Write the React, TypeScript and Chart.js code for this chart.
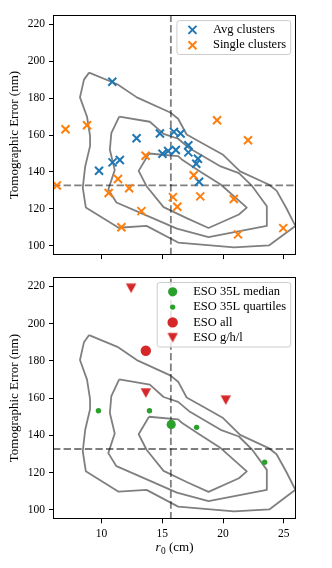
import React, { useEffect, useRef } from 'react';
import { Chart, registerables } from 'chart.js';

Chart.register(...registerables);

// ---------- axis ranges & ticks ----------
const X_MIN = 6;
const X_MAX = 26;
const Y_MIN = 95;
const Y_MAX = 225;
const X_TICKS = [10, 15, 20, 25];
const Y_TICKS = [100, 120, 140, 160, 180, 200, 220];
const Y_LABEL = 'Tomographic Error (nm)';

// ---------- reference lines ----------
const R0_MEDIAN = 15.7;
const ERR_MEDIAN = 132.7;

// ---------- top panel ----------
const AVG_R0 = [10.88, 12.88, 14.8, 15.95, 16.5, 17.14, 15.01, 15.48, 16.11, 17.14, 17.93, 17.79, 11.5, 10.9, 9.79, 18.02];
const AVG_ERR = [188.9, 158.3, 160.8, 161.7, 160.8, 154.5, 149.9, 151.4, 151.9, 150.6, 147.2, 144.5, 146.5, 145.2, 140.7, 134.7];
const SINGLE_R0 = [7.03, 8.8, 19.5, 22.05, 13.62, 17.58, 11.35, 12.27, 6.32, 10.58, 15.87, 18.12, 20.88, 16.23, 13.28, 11.63, 24.95, 21.23];
const SINGLE_ERR = [163.1, 165.3, 168.0, 157.2, 148.8, 138.2, 136.2, 131.2, 132.7, 128.6, 126.4, 126.8, 125.4, 121.2, 118.8, 110.1, 109.6, 106.2];

// ---------- bottom panel ----------
const ESO35_MEDIAN_R0 = [15.73];
const ESO35_MEDIAN_ERR = [145.9];
const ESO35_QUART_R0 = [9.74, 13.94, 17.82, 23.42];
const ESO35_QUART_ERR = [153.2, 153.2, 144.3, 125.6];
const ESO_ALL_R0 = [13.64];
const ESO_ALL_ERR = [185.4];
const ESO_GHL_R0 = [12.43, 13.64, 20.22];
const ESO_GHL_ERR = [218.9, 162.7, 158.9];

// ---------- density contours (r0, error) ----------
const CONTOUR_OUTER: number[][] = [
  [8.97, 193.8], [11.3, 187.5], [12.9, 180.4], [15.65, 172.2], [16.3, 168.8], [17.0, 160.3],
  [18.4, 155.2], [20.0, 149.3], [21.4, 140.3], [23.75, 133.2], [24.4, 129.9], [25.2, 120.5],
  [25.95, 110.8], [23.8, 100.3], [20.9, 99.2], [16.3, 101.8], [13.7, 110.8], [11.4, 109.8],
  [8.7, 120.8], [8.45, 131.5], [8.65, 143.0], [9.05, 154.0], [9.05, 159.5], [8.8, 169.9],
  [8.22, 180.4], [8.55, 190.0],
];
const CONTOUR_MIDDLE: number[][] = [
  [11.45, 170.0], [13.97, 167.2], [15.1, 160.6], [16.3, 158.0], [17.2, 153.0], [19.8, 143.0],
  [21.3, 139.4], [22.4, 132.3], [23.6, 121.5], [23.6, 110.8], [18.8, 104.7], [16.2, 109.3],
  [13.2, 117.9], [11.22, 123.5], [10.55, 130.5], [11.08, 141.0], [10.68, 152.0], [10.8, 161.0],
];
const CONTOUR_INNER: number[][] = [
  [13.9, 150.0], [16.3, 148.6], [16.6, 146.8], [18.1, 140.3], [19.8, 133.2], [21.95, 120.7],
  [21.3, 117.0], [18.8, 109.7], [17.0, 115.0], [15.1, 121.0], [13.7, 132.3], [13.05, 140.6],
];

// ---------- styles ----------
const BLUE = '#1f77b4';
const ORANGE = '#ff7f0e';
const GREEN = '#2ca02c';
const RED = '#d62728';
const GREY = 'rgba(0,0,0,0.5)';
const FONT = "'Liberation Serif', 'Times New Roman', serif";

const pts = (xs: number[], ys: number[]) => xs.map((x, i) => ({ x, y: ys[i] }));
const loop = (c: number[][]) => [...c, c[0]].map(([x, y]) => ({ x, y }));

function makeTriangle(color: string, w: number, h: number) {
  const c = document.createElement('canvas');
  const size = 14;
  c.width = size;
  c.height = size;
  const g = c.getContext('2d')!;
  const cx = size / 2;
  const cy = size / 2;
  g.fillStyle = color;
  g.beginPath();
  g.moveTo(cx - w / 2, cy - h / 2);
  g.lineTo(cx + w / 2, cy - h / 2);
  g.lineTo(cx, cy + h / 2);
  g.closePath();
  g.fill();
  return c;
}

function contourSets() {
  return [CONTOUR_OUTER, CONTOUR_MIDDLE, CONTOUR_INNER].map((c) => ({
    data: loop(c),
    showLine: true,
    pointRadius: 0,
    borderColor: GREY,
    borderWidth: 1.8,
    borderJoinStyle: 'round',
    tension: 0,
    order: 5,
  }));
}

function refLineSets() {
  return [
    {
      data: [{ x: R0_MEDIAN, y: Y_MIN }, { x: R0_MEDIAN, y: Y_MAX }],
      showLine: true, pointRadius: 0, borderColor: GREY, borderWidth: 1.8, borderDash: [7.4, 3.2], order: 6,
    },
    {
      data: [{ x: X_MIN, y: ERR_MEDIAN }, { x: X_MAX, y: ERR_MEDIAN }],
      showLine: true, pointRadius: 0, borderColor: GREY, borderWidth: 1.8, borderDash: [7.4, 3.2], order: 6,
    },
  ];
}

type LegendItem = { label: string; draw: (ctx: CanvasRenderingContext2D, x: number, y: number) => void };

function drawCross(color: string) {
  return (ctx: CanvasRenderingContext2D, x: number, y: number) => {
    const h = 4;
    ctx.save();
    ctx.strokeStyle = color;
    ctx.lineWidth = 2;
    ctx.beginPath();
    ctx.moveTo(x - h, y - h);
    ctx.lineTo(x + h, y + h);
    ctx.moveTo(x + h, y - h);
    ctx.lineTo(x - h, y + h);
    ctx.stroke();
    ctx.restore();
  };
}
function drawCircle(color: string, r: number) {
  return (ctx: CanvasRenderingContext2D, x: number, y: number) => {
    ctx.save();
    ctx.fillStyle = color;
    ctx.beginPath();
    ctx.arc(x, y, r, 0, Math.PI * 2);
    ctx.fill();
    ctx.restore();
  };
}
function drawImage(img: HTMLCanvasElement) {
  return (ctx: CanvasRenderingContext2D, x: number, y: number) => {
    ctx.drawImage(img, x - img.width / 2, y - img.height / 2);
  };
}

const framePlugin = {
  id: 'frame',
  afterDraw(chart: any) {
    const { ctx, chartArea: a } = chart;
    const l = Math.round(a.left);
    const t = Math.round(a.top);
    const r = Math.round(a.right);
    const b = Math.round(a.bottom);
    ctx.save();
    ctx.strokeStyle = '#000';
    ctx.lineWidth = 1;
    ctx.strokeRect(l + 0.5, t + 0.5, r - l - 1, b - t - 1);
    ctx.restore();
  },
};

function legendPlugin(items: LegendItem[]) {
  return {
    id: 'customLegend',
    afterDraw(chart: any) {
      const { ctx, chartArea: a } = chart;
      ctx.save();
      ctx.font = `12.5px ${FONT}`;
      const maxW = Math.max(...items.map((it) => ctx.measureText(it.label).width));
      const w = 36 + maxW + 4.5;
      const rowH = 15.3;
      const h = (items.length - 1) * rowH + 18.6;
      const right = a.right - 5.3;
      const top = a.top + 5.6;
      const left = right - w;
      const rad = 2.5;
      ctx.beginPath();
      ctx.moveTo(left + rad, top);
      ctx.arcTo(right, top, right, top + h, rad);
      ctx.arcTo(right, top + h, left, top + h, rad);
      ctx.arcTo(left, top + h, left, top, rad);
      ctx.arcTo(left, top, right, top, rad);
      ctx.closePath();
      ctx.fillStyle = 'rgba(255,255,255,0.8)';
      ctx.fill();
      ctx.strokeStyle = '#cccccc';
      ctx.lineWidth = 1;
      ctx.stroke();
      items.forEach((it, i) => {
        const cy = top + 9.3 + i * rowH;
        it.draw(ctx, left + 15.5, cy);
        ctx.fillStyle = '#000';
        ctx.textBaseline = 'middle';
        ctx.textAlign = 'left';
        ctx.font = `12.5px ${FONT}`;
        ctx.fillText(it.label, left + 36, cy);
      });
      ctx.restore();
    },
  };
}

const xTitlePlugin = {
  id: 'xTitle',
  afterDraw(chart: any) {
    const { ctx, chartArea: a } = chart;
    const size = 13;
    ctx.save();
    ctx.fillStyle = '#000';
    ctx.textBaseline = 'alphabetic';
    ctx.textAlign = 'left';
    const fItalic = `italic ${size}px ${FONT}`;
    const fSub = `${size * 0.72}px ${FONT}`;
    const fNorm = `${size}px ${FONT}`;
    ctx.font = fItalic;
    const w1 = ctx.measureText('r').width;
    ctx.font = fSub;
    const w2 = ctx.measureText('0').width;
    ctx.font = fNorm;
    const w3 = ctx.measureText(' (cm)').width;
    const total = w1 + 0.5 + w2 + w3;
    let x = (a.left + a.right) / 2 - total / 2;
    const base = a.bottom + 32;
    ctx.font = fItalic;
    ctx.fillText('r', x, base);
    x += w1 + 0.5;
    ctx.font = fSub;
    ctx.fillText('0', x, base + 2.5);
    x += w2;
    ctx.font = fNorm;
    ctx.fillText(' (cm)', x, base);
    ctx.restore();
  },
};

function makeConfig(o: { padTop: number; xHeight: number; showX: boolean; datasets: any[]; legend: LegendItem[] }) {
  const grid = { drawOnChartArea: false, drawTicks: true, tickLength: 4, color: '#000', lineWidth: 1 };
  return {
    type: 'scatter' as const,
    data: { datasets: o.datasets },
    options: {
      animation: false,
      responsive: false,
      maintainAspectRatio: false,
      devicePixelRatio: 1,
      events: [],
      layout: { padding: { top: o.padTop, right: 36, bottom: 0, left: 0 } },
      plugins: { legend: { display: false }, tooltip: { enabled: false } },
      scales: {
        x: {
          type: 'linear',
          min: X_MIN,
          max: X_MAX,
          afterBuildTicks: (s: any) => { s.ticks = X_TICKS.map((v) => ({ value: v })); },
          afterFit: (s: any) => { s.height = o.xHeight; },
          grid,
          border: { display: false },
          ticks: { display: o.showX, color: '#000', font: { family: FONT, size: 11.5 }, padding: 3.5, maxRotation: 0 },
        },
        y: {
          type: 'linear',
          min: Y_MIN,
          max: Y_MAX,
          afterBuildTicks: (s: any) => { s.ticks = Y_TICKS.map((v) => ({ value: v })); },
          afterFit: (s: any) => { s.width = 53; },
          grid,
          border: { display: false },
          ticks: { color: '#000', font: { family: FONT, size: 11.5 }, padding: 4 },
          title: { display: true, text: Y_LABEL, color: '#000', font: { family: FONT, size: 13 }, padding: { top: 7.2, bottom: 0 } },
        },
      },
    },
    plugins: [framePlugin, legendPlugin(o.legend), ...(o.showX ? [xTitlePlugin] : [])],
  };
}

export default function App() {
  const topRef = useRef<HTMLCanvasElement>(null);
  const botRef = useRef<HTMLCanvasElement>(null);

  useEffect(() => {
    const tri = makeTriangle(RED, 10.4, 9.6);

    const topSets = [
      ...refLineSets(),
      ...contourSets(),
      {
        data: pts(AVG_R0, AVG_ERR), pointStyle: 'crossRot', pointRadius: 5.66,
        borderColor: BLUE, backgroundColor: BLUE, borderWidth: 2, order: 1,
      },
      {
        data: pts(SINGLE_R0, SINGLE_ERR), pointStyle: 'crossRot', pointRadius: 5.66,
        borderColor: ORANGE, backgroundColor: ORANGE, borderWidth: 2, order: 0,
      },
    ];
    const botSets = [
      ...refLineSets(),
      ...contourSets(),
      {
        data: pts(ESO35_MEDIAN_R0, ESO35_MEDIAN_ERR), pointStyle: 'circle', pointRadius: 4.6,
        backgroundColor: GREEN, borderColor: GREEN, borderWidth: 0, order: 3,
      },
      {
        data: pts(ESO35_QUART_R0, ESO35_QUART_ERR), pointStyle: 'circle', pointRadius: 2.7,
        backgroundColor: GREEN, borderColor: GREEN, borderWidth: 0, order: 2,
      },
      {
        data: pts(ESO_ALL_R0, ESO_ALL_ERR), pointStyle: 'circle', pointRadius: 5.2,
        backgroundColor: RED, borderColor: RED, borderWidth: 0, order: 1,
      },
      {
        data: pts(ESO_GHL_R0, ESO_GHL_ERR), pointStyle: tri, pointRadius: 5,
        backgroundColor: RED, borderColor: RED, borderWidth: 0, order: 0,
      },
    ];

    const topChart = new Chart(topRef.current!, makeConfig({
      padTop: 15, xHeight: 8.3, showX: false, datasets: topSets,
      legend: [
        { label: 'Avg clusters', draw: drawCross(BLUE) },
        { label: 'Single clusters', draw: drawCross(ORANGE) },
      ],
    }) as any);
    const botChart = new Chart(botRef.current!, makeConfig({
      padTop: 10, xHeight: 48.7, showX: true, datasets: botSets,
      legend: [
        { label: 'ESO 35L median', draw: drawCircle(GREEN, 4.6) },
        { label: 'ESO 35L quartiles', draw: drawCircle(GREEN, 2.7) },
        { label: 'ESO all', draw: drawCircle(RED, 5.2) },
        { label: 'ESO g/h/l', draw: drawImage(tri) },
      ],
    }) as any);
    return () => {
      topChart.destroy();
      botChart.destroy();
    };
  }, []);

  return (
    <div style={{ position: 'absolute', left: 0, top: 0, width: 332, height: 568, background: '#fff' }}>
      <canvas ref={topRef} width={332} height={266} style={{ position: 'absolute', left: 0, top: 0, width: 332, height: 266 }} />
      <canvas ref={botRef} width={332} height={302} style={{ position: 'absolute', left: 0, top: 266, width: 332, height: 302 }} />
    </div>
  );
}
